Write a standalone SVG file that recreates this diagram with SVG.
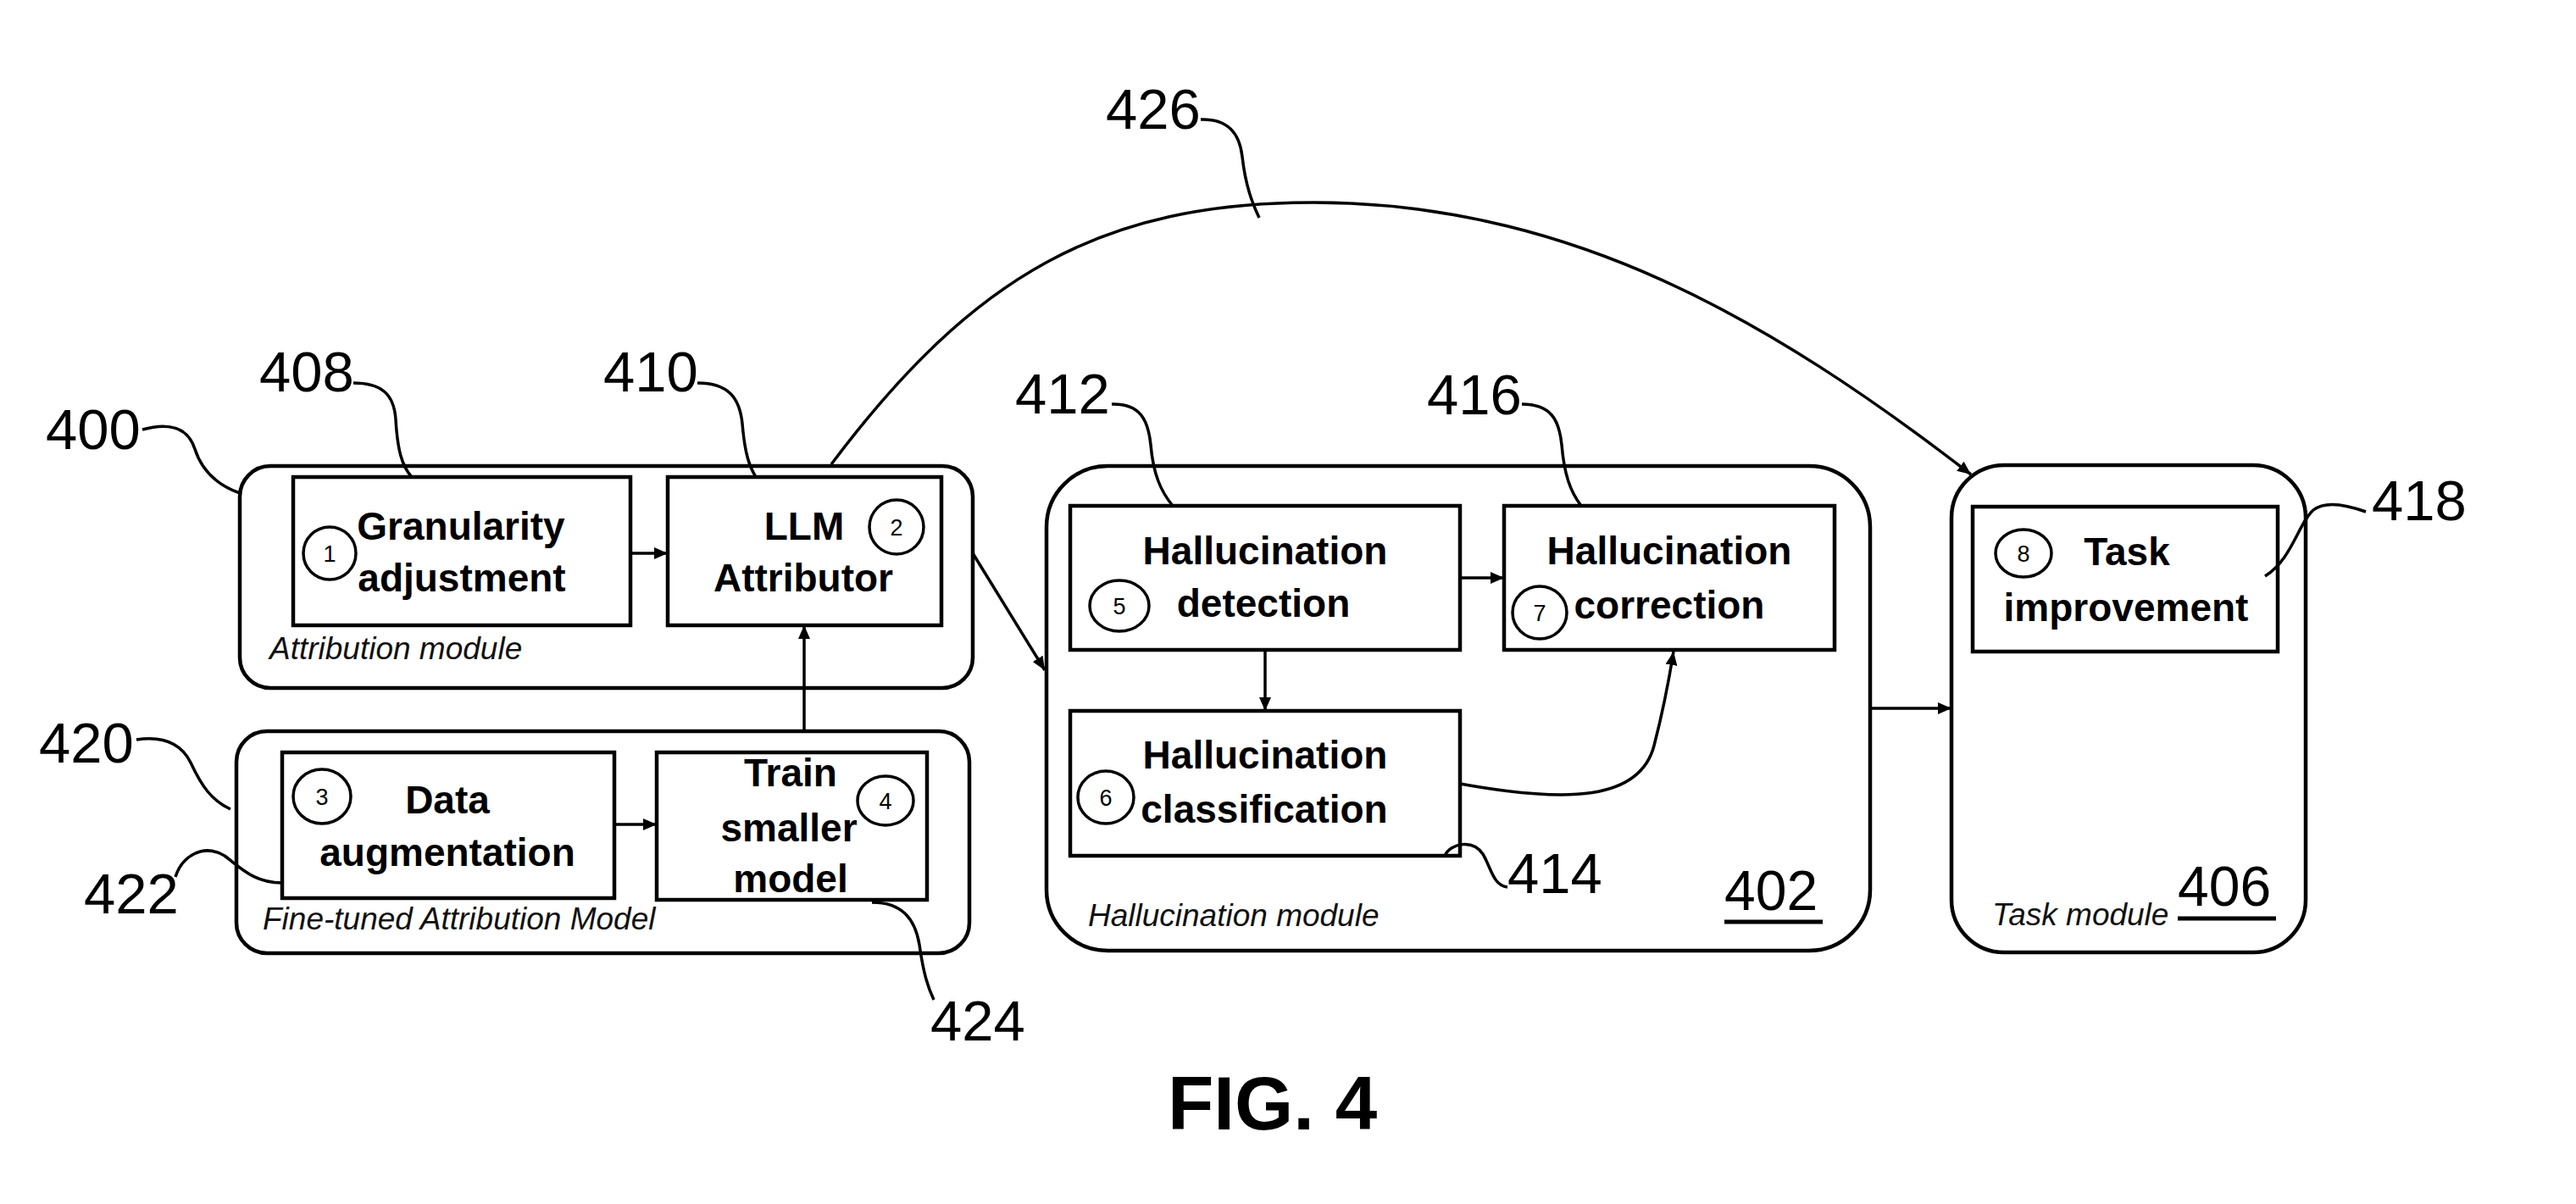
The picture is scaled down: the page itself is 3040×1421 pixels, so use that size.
<svg xmlns="http://www.w3.org/2000/svg" width="3040" height="1421" viewBox="0 0 3040 1421">
<style>
.bg{fill:#fff}
.outer{fill:none;stroke:#000;stroke-width:4.5}
.box{fill:none;stroke:#000;stroke-width:4.5}
.num{fill:none;stroke:#000;stroke-width:3.5}
.ntext{font-family:"Liberation Sans",Arial,sans-serif;font-size:27px;fill:#000;text-anchor:middle}
.lbl{font-family:"Liberation Sans",Arial,sans-serif;font-size:46px;font-weight:bold;fill:#000;text-anchor:middle}
.mod{font-family:"Liberation Sans",Arial,sans-serif;font-size:37px;font-style:italic;fill:#111}
.ref{font-family:"Liberation Sans",Arial,sans-serif;font-size:67px;fill:#000}
.big{font-family:"Liberation Sans",Arial,sans-serif;font-size:66px;fill:#000}
.fig{font-family:"Liberation Sans",Arial,sans-serif;font-size:89px;font-weight:bold;fill:#000}
.conn{fill:none;stroke:#000;stroke-width:3.5}
.lead{fill:none;stroke:#000;stroke-width:3.5}
</style>
<defs>
<marker id="ah" markerUnits="userSpaceOnUse" markerWidth="18" markerHeight="14" refX="16" refY="7" orient="auto">
<path d="M0,0 L16,7 L0,14 Z" fill="#000"/>
</marker>
</defs>
<rect class="bg" x="0" y="0" width="3040" height="1421"/>

<g id="attribution-module">
<rect class="outer" x="283" y="550" width="865" height="262" rx="36"/>
<text class="mod" x="318" y="778">Attribution module</text>
</g>
<g id="granularity-adjustment">
<rect class="box" x="346" y="563" width="398" height="175"/>
<ellipse class="num" cx="389" cy="653" rx="31" ry="31"/>
<text class="ntext" x="389" y="663">1</text>
<text class="lbl" x="544" y="637">Granularity</text>
<text class="lbl" x="545" y="698">adjustment</text>
</g>
<g id="llm-attributor">
<rect class="box" x="788" y="563" width="323" height="175"/>
<ellipse class="num" cx="1058" cy="622" rx="32" ry="32"/>
<text class="ntext" x="1058" y="632">2</text>
<text class="lbl" x="949" y="637">LLM</text>
<text class="lbl" x="948" y="698">Attributor</text>
</g>

<g id="fine-tuned-module">
<rect class="outer" x="279" y="863" width="865" height="262" rx="36"/>
<text class="mod" x="310" y="1097">Fine-tuned Attribution Model</text>
</g>
<g id="data-augmentation">
<rect class="box" x="333" y="888" width="392" height="172"/>
<ellipse class="num" cx="380" cy="940" rx="34" ry="32"/>
<text class="ntext" x="380" y="950">3</text>
<text class="lbl" x="528" y="960">Data</text>
<text class="lbl" x="528" y="1022">augmentation</text>
</g>
<g id="train-smaller-model">
<rect class="box" x="775" y="888" width="319" height="174"/>
<ellipse class="num" cx="1045" cy="945" rx="33" ry="29"/>
<text class="ntext" x="1045" y="955">4</text>
<text class="lbl" x="933" y="928">Train</text>
<text class="lbl" x="931" y="993">smaller</text>
<text class="lbl" x="933" y="1053">model</text>
</g>

<g id="hallucination-module">
<rect class="outer" x="1235" y="550" width="972" height="572" rx="72"/>
<text class="mod" x="1284" y="1093">Hallucination module</text>
<text class="big" x="2035" y="1074">402</text>
<line x1="2035" y1="1088" x2="2151" y2="1088" stroke="#000" stroke-width="5"/>
</g>
<g id="hallucination-detection">
<rect class="box" x="1263" y="597" width="460" height="170"/>
<ellipse class="num" cx="1321" cy="715" rx="35" ry="30"/>
<text class="ntext" x="1321" y="725">5</text>
<text class="lbl" x="1493" y="666">Hallucination</text>
<text class="lbl" x="1491" y="728">detection</text>
</g>
<g id="hallucination-correction">
<rect class="box" x="1775" y="597" width="390" height="170"/>
<ellipse class="num" cx="1817" cy="723" rx="32" ry="31"/>
<text class="ntext" x="1817" y="733">7</text>
<text class="lbl" x="1970" y="666">Hallucination</text>
<text class="lbl" x="1970" y="730">correction</text>
</g>
<g id="hallucination-classification">
<rect class="box" x="1263" y="839" width="460" height="171"/>
<ellipse class="num" cx="1305" cy="941" rx="33" ry="31"/>
<text class="ntext" x="1305" y="951">6</text>
<text class="lbl" x="1493" y="907">Hallucination</text>
<text class="lbl" x="1492" y="971">classification</text>
</g>

<g id="task-module">
<rect class="outer" x="2303" y="549" width="418" height="575" rx="62"/>
<text class="mod" x="2351" y="1092">Task module</text>
<text class="big" x="2570" y="1069">406</text>
<line x1="2570" y1="1084" x2="2686" y2="1084" stroke="#000" stroke-width="5"/>
</g>
<g id="task-improvement">
<rect class="box" x="2328" y="598" width="360" height="171"/>
<ellipse class="num" cx="2388" cy="653" rx="33" ry="28"/>
<text class="ntext" x="2388" y="663">8</text>
<text class="lbl" x="2510" y="667">Task</text>
<text class="lbl" x="2509" y="733">improvement</text>
</g>

<g id="connectors">
<line class="conn" x1="744" y1="653" x2="788" y2="653" marker-end="url(#ah)"/>
<line class="conn" x1="725" y1="973" x2="775" y2="973" marker-end="url(#ah)"/>
<line class="conn" x1="949" y1="863" x2="949" y2="738" marker-end="url(#ah)"/>
<line class="conn" x1="1148" y1="653" x2="1233" y2="791" marker-end="url(#ah)"/>
<line class="conn" x1="1723" y1="682" x2="1775" y2="682" marker-end="url(#ah)"/>
<line class="conn" x1="1493" y1="767" x2="1493" y2="839" marker-end="url(#ah)"/>
<path class="conn" d="M1723,925 C1850,948 1935,945 1952,880 C1965,830 1970,800 1975,769" marker-end="url(#ah)"/>
<line class="conn" x1="2207" y1="836" x2="2303" y2="836" marker-end="url(#ah)"/>
<path class="conn" d="M981,548 C1149,324 1301,239 1551,239 C1851,239 2089,377 2326,560" marker-end="url(#ah)"/>
</g>

<g id="reference-labels">
<text class="ref" x="54" y="530">400</text>
<text class="ref" x="306" y="462">408</text>
<text class="ref" x="712" y="462">410</text>
<text class="ref" x="46" y="900">420</text>
<text class="ref" x="99" y="1078">422</text>
<text class="ref" x="1098" y="1228">424</text>
<text class="ref" x="1305" y="152">426</text>
<text class="ref" x="1198" y="488">412</text>
<text class="ref" x="1684" y="489">416</text>
<text class="ref" x="1779" y="1054">414</text>
<text class="ref" x="2799" y="614">418</text>
<path class="lead" d="M168,507 C200,498 222,505 230,530 S255,572 283,582"/>
<path class="lead" d="M417,452 C450,452 465,465 467,495 C469,530 474,550 486,563"/>
<path class="lead" d="M823,452 C860,452 873,470 876,500 C879,535 884,550 892,563"/>
<path class="lead" d="M161,873 C195,868 215,880 225,900 C238,928 250,945 272,955"/>
<path class="lead" d="M207,1035 C215,1010 240,995 265,1010 C285,1025 300,1042 333,1042"/>
<path class="lead" d="M1029,1065 C1065,1065 1080,1085 1085,1115 C1090,1150 1095,1165 1102,1180"/>
<path class="lead" d="M1417,141 C1450,140 1463,158 1466,185 C1470,220 1478,240 1486,257"/>
<path class="lead" d="M1312,477 C1345,476 1355,495 1358,525 C1361,560 1370,580 1384,597"/>
<path class="lead" d="M1796,477 C1830,477 1840,495 1843,525 C1846,560 1853,580 1866,597"/>
<path class="lead" d="M1705,1010 C1712,995 1738,990 1750,1008 C1760,1025 1762,1045 1779,1047"/>
<path class="lead" d="M2792,604 C2770,596 2745,590 2730,602 C2712,618 2705,660 2673,680"/>
</g>

<text class="fig" x="1378" y="1333">FIG. 4</text>
</svg>
